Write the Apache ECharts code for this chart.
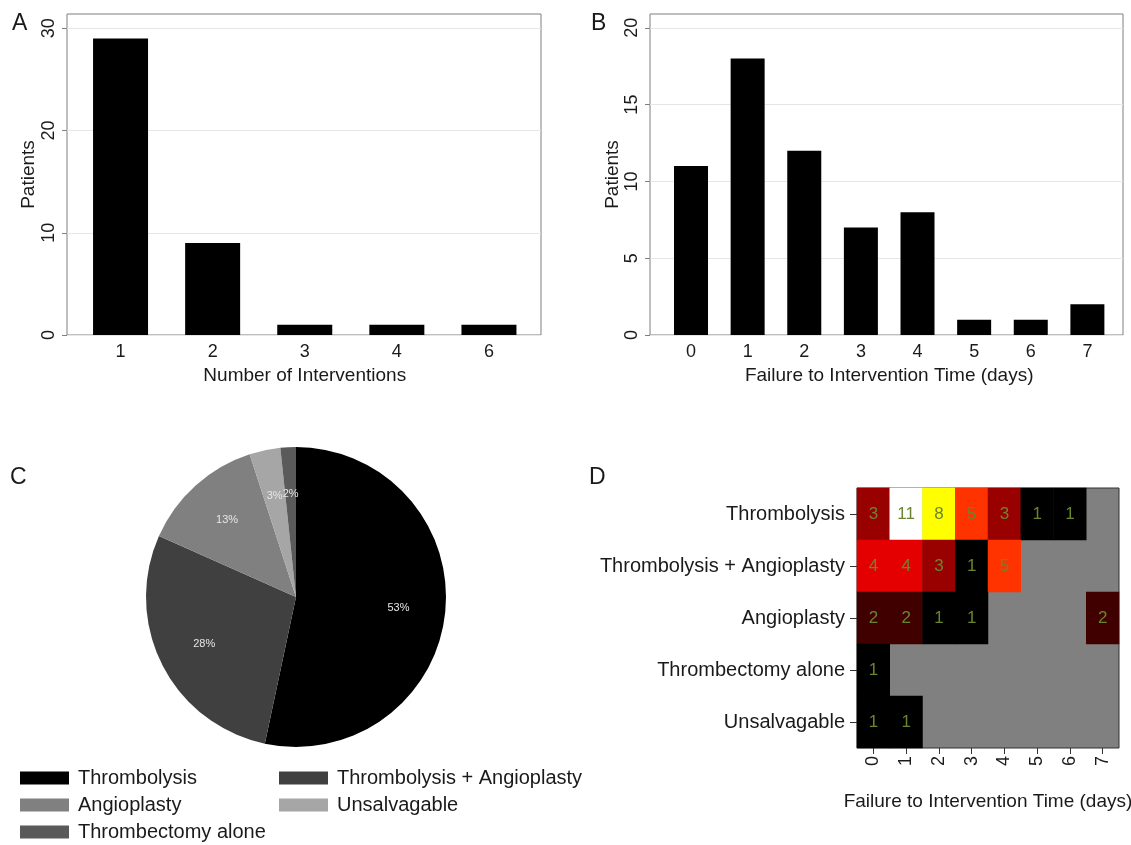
<!DOCTYPE html>
<html>
<head>
<meta charset="utf-8">
<script src="https://cdn.jsdelivr.net/npm/echarts@6/dist/echarts.min.js"></script>
<style>
  html, body { margin: 0; padding: 0; background: #ffffff; }
  #chart { width: 1131px; height: 845px; }
</style>
</head>
<body>
<div id="chart"></div>
<script>
// ---- Panel A data ----
const aCategories = ['1', '2', '3', '4', '6'];
const aValues = [29, 9, 1, 1, 1];
const aTicks = [0, 10, 20, 30];

// ---- Panel B data ----
const bCategories = ['0', '1', '2', '3', '4', '5', '6', '7'];
const bValues = [11, 18, 12, 7, 8, 1, 1, 2];
const bTicks = [0, 5, 10, 15, 20];

// ---- Panel C data ----
const pieNames = ['Thrombolysis', 'Thrombolysis + Angioplasty', 'Angioplasty', 'Unsalvagable', 'Thrombectomy alone'];
const pieValues = [32, 17, 8, 2, 1];
const pieColors = ['#000000', '#404040', '#808080', '#a6a6a6', '#5a5a5a'];

// ---- Panel D data ----
const dRows = ['Thrombolysis', 'Thrombolysis + Angioplasty', 'Angioplasty', 'Thrombectomy alone', 'Unsalvagable'];
const dDays = ['0', '1', '2', '3', '4', '5', '6', '7'];
const dThrombolysis = [3, 11, 8, 5, 3, 1, 1, null];
const dThromboAngio = [4, 4, 3, 1, 5, null, null, null];
const dAngioplasty = [2, 2, 1, 1, null, null, null, 2];
const dThrombectomy = [1, null, null, null, null, null, null, null];
const dUnsalvagable = [1, 1, null, null, null, null, null, null];
const dMatrix = [dThrombolysis, dThromboAngio, dAngioplasty, dThrombectomy, dUnsalvagable];
const heatStops = ['#000000', '#400000', '#990000', '#e40000', '#ff3300', '#ff8800', '#ffcc00', '#ffff00', '#ffff66', '#ffffb3', '#ffffff'];

const heatData = [];
dMatrix.forEach((row, yi) => row.forEach((v, xi) => { if (v !== null) heatData.push([xi, yi, v]); }));
const pieTotal = pieValues.reduce((a, b) => a + b, 0);
const pieData = pieNames.map((n, i) => ({ name: n, value: pieValues[i], itemStyle: { color: pieColors[i] } }));

const FONT = 'Liberation Sans';
const TXT = '#1a1a1a';
const FRAME = '#7f7f7f';

const chart = echarts.init(document.getElementById('chart'), null, { renderer: 'canvas' });

function frameY(max, interval, ticks, gridIndex) {
  return {
    type: 'value', gridIndex: gridIndex, min: 0, max: max, interval: interval,
    name: 'Patients', nameLocation: 'middle', nameGap: 29, nameRotate: 90,
    nameTextStyle: { fontFamily: FONT, fontSize: 19, color: TXT },
    axisLine: { show: false },
    axisTick: { show: true, length: 5, lineStyle: { color: FRAME }, customValues: ticks },
    axisLabel: { rotate: 90, margin: 9, fontFamily: FONT, fontSize: 18, color: TXT, customValues: ticks },
    splitLine: { show: true, lineStyle: { color: '#e6e6e6', width: 1 } }
  };
}
function catX(cats, gridIndex, name) {
  return {
    type: 'category', gridIndex: gridIndex, data: cats,
    name: name, nameLocation: 'middle', nameGap: 31,
    nameTextStyle: { fontFamily: FONT, fontSize: 19, color: TXT },
    axisLine: { show: false }, axisTick: { show: false },
    axisLabel: { margin: 8, fontFamily: FONT, fontSize: 18, color: TXT },
    splitLine: { show: false }
  };
}

const option = {
  backgroundColor: '#ffffff',
  animation: false,
  title: [
    { text: 'A', left: 12, top: 12, padding: 0, textStyle: { fontFamily: FONT, fontSize: 23, fontWeight: 'normal', color: TXT } },
    { text: 'B', left: 591, top: 12, padding: 0, textStyle: { fontFamily: FONT, fontSize: 23, fontWeight: 'normal', color: TXT } },
    { text: 'C', left: 10, top: 466, padding: 0, textStyle: { fontFamily: FONT, fontSize: 23, fontWeight: 'normal', color: TXT } },
    { text: 'D', left: 589, top: 466, padding: 0, textStyle: { fontFamily: FONT, fontSize: 23, fontWeight: 'normal', color: TXT } }
  ],
  grid: [
    { left: 67, top: 14, width: 474, height: 321, show: true, borderColor: FRAME, borderWidth: 1, backgroundColor: 'transparent', outerBoundsMode: 'none' },
    { left: 74.5, top: 14, width: 460.5, height: 321, outerBoundsMode: 'none' },
    { left: 650, top: 14, width: 473, height: 321, show: true, borderColor: FRAME, borderWidth: 1, backgroundColor: 'transparent', outerBoundsMode: 'none' },
    { left: 662.7, top: 14, width: 453, height: 321, outerBoundsMode: 'none' },
    { left: 857, top: 488, width: 262, height: 260, show: true, borderColor: '#333333', borderWidth: 1, backgroundColor: '#808080', outerBoundsMode: 'none' }
  ],
  xAxis: [
    { type: 'value', gridIndex: 0, show: false, min: 0, max: 1 },
    catX(aCategories, 1, 'Number of Interventions'),
    { type: 'value', gridIndex: 2, show: false, min: 0, max: 1 },
    catX(bCategories, 3, 'Failure to Intervention Time (days)'),
    {
      type: 'category', gridIndex: 4, data: dDays,
      name: 'Failure to Intervention Time (days)', nameLocation: 'middle', nameGap: 44,
      nameTextStyle: { fontFamily: FONT, fontSize: 19, color: TXT },
      axisLine: { show: false },
      axisTick: { show: true, alignWithLabel: true, length: 6, lineStyle: { color: '#333333' } },
      axisLabel: { rotate: 90, margin: 8, fontFamily: FONT, fontSize: 18, color: TXT },
      splitLine: { show: false }
    }
  ],
  yAxis: [
    frameY(31.4, 10, aTicks, 0),
    { type: 'value', gridIndex: 1, show: false, min: 0, max: 31.4, splitLine: { show: false } },
    Object.assign(frameY(20.9, 5, bTicks, 2), { nameGap: 28 }),
    { type: 'value', gridIndex: 3, show: false, min: 0, max: 20.9, splitLine: { show: false } },
    {
      type: 'category', gridIndex: 4, data: dRows, inverse: true,
      axisLine: { show: false },
      axisTick: { show: true, alignWithLabel: true, length: 7, lineStyle: { color: '#333333' } },
      axisLabel: { margin: 12, fontFamily: FONT, fontSize: 20, color: TXT },
      splitLine: { show: false }
    }
  ],
  visualMap: {
    show: false, type: 'continuous', min: 1, max: 11, seriesIndex: 2, dimension: 2,
    inRange: { color: heatStops }
  },
  legend: [
    {
      data: ['Thrombolysis', 'Angioplasty', 'Thrombectomy alone'],
      orient: 'vertical', left: 20, top: 768, padding: 0, itemGap: 7,
      itemWidth: 49, itemHeight: 13, icon: 'rect', selectedMode: false,
      textStyle: { fontFamily: FONT, fontSize: 20, color: TXT, padding: [0, 0, 0, 4] }
    },
    {
      data: ['Thrombolysis + Angioplasty', 'Unsalvagable'],
      orient: 'vertical', left: 279, top: 768, padding: 0, itemGap: 7,
      itemWidth: 49, itemHeight: 13, icon: 'rect', selectedMode: false,
      textStyle: { fontFamily: FONT, fontSize: 20, color: TXT, padding: [0, 0, 0, 4] }
    }
  ],
  series: [
    {
      type: 'bar', xAxisIndex: 1, yAxisIndex: 1, data: aValues,
      barWidth: 55, itemStyle: { color: '#000000' }, silent: true
    },
    {
      type: 'bar', xAxisIndex: 3, yAxisIndex: 3, data: bValues,
      barWidth: 34, itemStyle: { color: '#000000' }, silent: true
    },
    {
      type: 'heatmap', xAxisIndex: 4, yAxisIndex: 4, data: heatData,
      label: { show: true, fontFamily: FONT, fontSize: 17, color: '#6a8530', formatter: p => String(p.value[2]) },
      itemStyle: { borderWidth: 0 }, silent: true
    },
    {
      type: 'pie', name: 'pie', center: [296, 597], radius: [0, 150],
      startAngle: 90, clockwise: true, data: pieData,
      label: { show: false }, labelLine: { show: false }, silent: true,
      itemStyle: { borderWidth: 0 }
    },
    {
      type: 'pie', name: 'pieLabels', center: [296, 597], radius: [50, 150],
      startAngle: 90, clockwise: true, avoidLabelOverlap: false, legendHoverLink: false,
      data: pieNames.map((n, i) => ({ name: n, value: pieValues[i], itemStyle: { color: 'rgba(0,0,0,0)' } })),
      label: {
        show: true, position: 'inside', fontFamily: FONT, fontSize: 11, color: '#e6e6e6',
        formatter: p => Math.round(p.value / pieTotal * 100) + '%'
      },
      labelLine: { show: false }, silent: true, z: 3,
      itemStyle: { borderWidth: 0 }
    }
  ]
};
chart.setOption(option);
</script>
</body>
</html>
